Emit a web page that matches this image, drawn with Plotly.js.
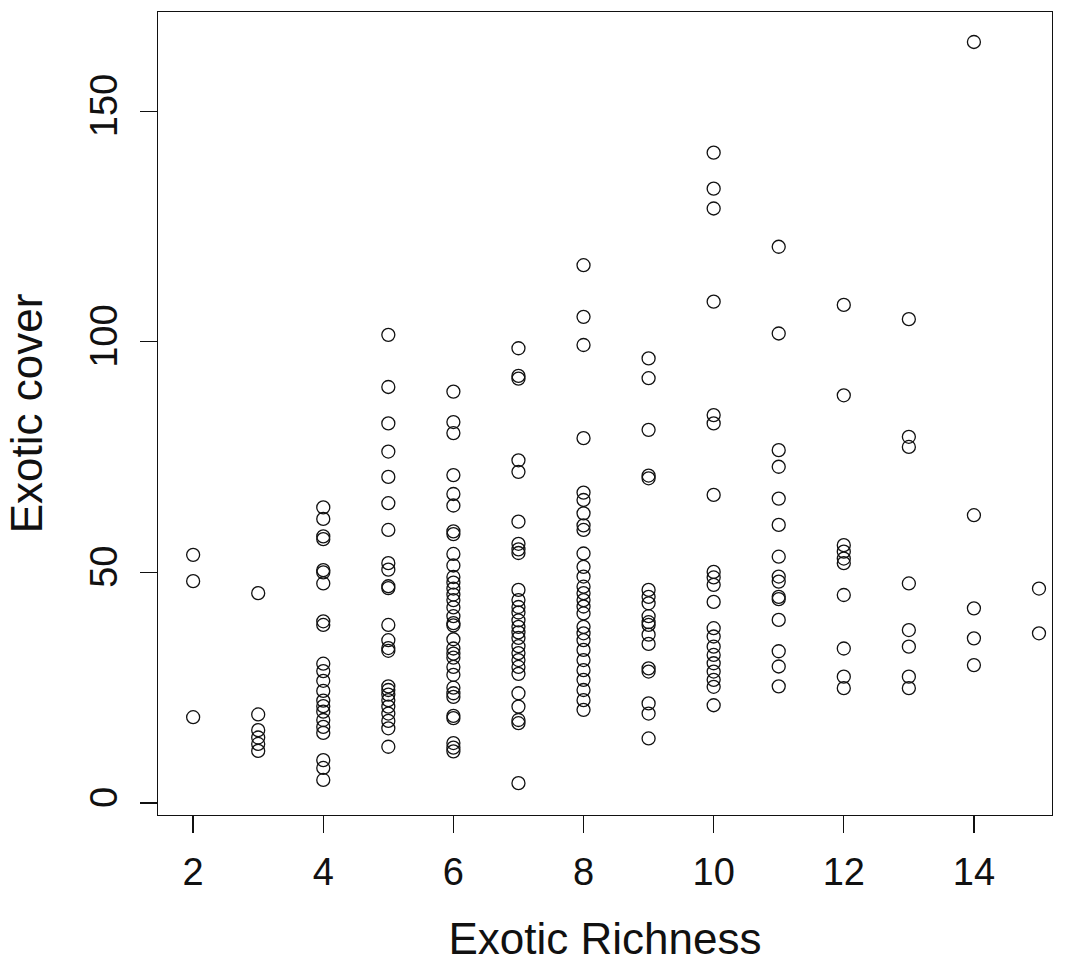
<!DOCTYPE html>
<html>
<head>
<meta charset="utf-8">
<script src="https://cdn.plot.ly/plotly-3.0.1.min.js"></script>
<style>
  html, body { margin: 0; padding: 0; background: #fff; }
  #chart { width: 1075px; height: 965px; }
</style>
</head>
<body>
<div id="chart"></div>
<script>
// Exotic cover values, grouped by exotic richness
const richness = [2, 3, 4, 5, 6, 7, 8, 9, 10, 11, 12, 13, 14, 15];
const cover2 = [53.8, 48.1, 18.6];
const cover3 = [45.5, 19.2, 15.8, 14.2, 12.8, 11.3];
const cover4 = [64.1, 61.6, 57.8, 57.2, 50.5, 50.0, 47.6, 39.4, 38.6, 30.2, 28.6, 26.5, 24.3, 22.2, 21.0, 19.8, 18.0, 16.5, 15.2, 9.3, 7.6, 5.0];
const cover5 = [101.5, 90.2, 82.3, 76.2, 70.7, 65.0, 59.2, 52.0, 50.6, 47.0, 46.6, 38.6, 35.3, 33.6, 33.0, 25.3, 24.5, 23.5, 22.3, 20.9, 19.4, 17.8, 16.2, 12.2];
const cover6 = [89.2, 82.6, 80.2, 71.1, 67.0, 64.5, 58.9, 58.3, 54.0, 51.5, 49.0, 47.8, 46.5, 45.2, 44.0, 42.4, 40.5, 39.0, 38.5, 35.5, 33.5, 32.4, 31.5, 29.5, 27.8, 25.0, 23.8, 23.0, 18.9, 18.4, 13.0, 12.0, 11.2];
const cover7 = [98.6, 92.6, 92.0, 74.3, 71.8, 61.0, 56.2, 55.0, 54.2, 46.2, 44.0, 42.5, 41.3, 39.6, 38.2, 37.0, 35.8, 34.0, 32.5, 31.0, 29.5, 28.0, 23.8, 20.9, 18.0, 17.3, 4.3];
const cover8 = [116.6, 105.4, 99.3, 79.1, 67.3, 65.7, 62.8, 60.2, 59.2, 54.1, 51.2, 49.1, 46.9, 45.5, 44.0, 42.6, 41.1, 38.2, 36.8, 35.3, 33.2, 31.0, 28.8, 26.7, 24.5, 22.3, 20.2];
const cover9 = [96.4, 92.1, 80.9, 71.0, 70.4, 46.2, 44.7, 43.3, 40.5, 39.2, 38.6, 36.5, 34.5, 29.2, 28.5, 21.6, 19.4, 14.0];
const cover10 = [141.0, 133.2, 128.9, 108.7, 84.1, 82.3, 66.8, 50.1, 48.9, 47.3, 43.6, 37.9, 36.1, 33.9, 32.1, 30.3, 28.5, 26.7, 25.2, 21.2];
const cover11 = [120.6, 101.8, 76.5, 72.9, 66.0, 60.3, 53.4, 49.1, 48.0, 44.7, 44.2, 39.7, 32.9, 29.6, 25.3];
const cover12 = [108.0, 88.4, 55.9, 54.5, 53.0, 52.0, 45.1, 33.5, 27.4, 24.9];
const cover13 = [104.9, 79.4, 77.2, 47.6, 37.5, 33.9, 27.4, 24.9];
const cover14 = [165.0, 62.4, 42.2, 35.7, 29.9];
const cover15 = [46.5, 36.8];

const xTicks = [2, 4, 6, 8, 10, 12, 14];
const yTicks = [0, 50, 100, 150];

const groups = [cover2, cover3, cover4, cover5, cover6, cover7, cover8, cover9, cover10, cover11, cover12, cover13, cover14, cover15];
const xs = [], ys = [];
groups.forEach((g, i) => g.forEach(v => { xs.push(richness[i]); ys.push(v); }));

const font = "Liberation Sans, Arial, sans-serif";

Plotly.newPlot('chart', [{
  type: 'scatter', mode: 'markers', x: xs, y: ys,
  marker: { symbol: 'circle-open', size: 13, color: '#111', line: { width: 1.3, color: '#111' } },
  hoverinfo: 'x+y'
}], {
  width: 1075, height: 965,
  paper_bgcolor: '#fff', plot_bgcolor: '#fff',
  margin: { l: 158, r: 23, t: 12, b: 150 },
  showlegend: false,
  font: { family: font, color: '#111' },
  xaxis: {
    range: [1.46, 15.2], tickvals: xTicks, ticktext: xTicks.map(String),
    showgrid: false, zeroline: false,
    showline: true, mirror: true, linecolor: '#111', linewidth: 1.3,
    ticks: 'outside', ticklen: 17, tickwidth: 1.3, tickcolor: '#111',
    tickfont: { size: 38, family: font, color: '#111' },
    ticklabelstandoff: 6,
    title: { text: 'Exotic Richness', font: { size: 44, family: font, color: '#111' }, standoff: 31 }
  },
  yaxis: {
    range: [-2.6, 171.5], tickvals: yTicks, ticktext: yTicks.map(String),
    showgrid: false, zeroline: false,
    showline: true, mirror: true, linecolor: '#111', linewidth: 1.3,
    ticks: 'outside', ticklen: 17, tickwidth: 1.3, tickcolor: '#111',
    tickangle: -90,
    tickfont: { size: 38, family: font, color: '#111' },
    ticklabelstandoff: 8,
    title: { text: 'Exotic cover', font: { size: 44, family: font, color: '#111' }, standoff: 26 }
  }
}, { displayModeBar: false, staticPlot: true });
</script>
</body>
</html>
